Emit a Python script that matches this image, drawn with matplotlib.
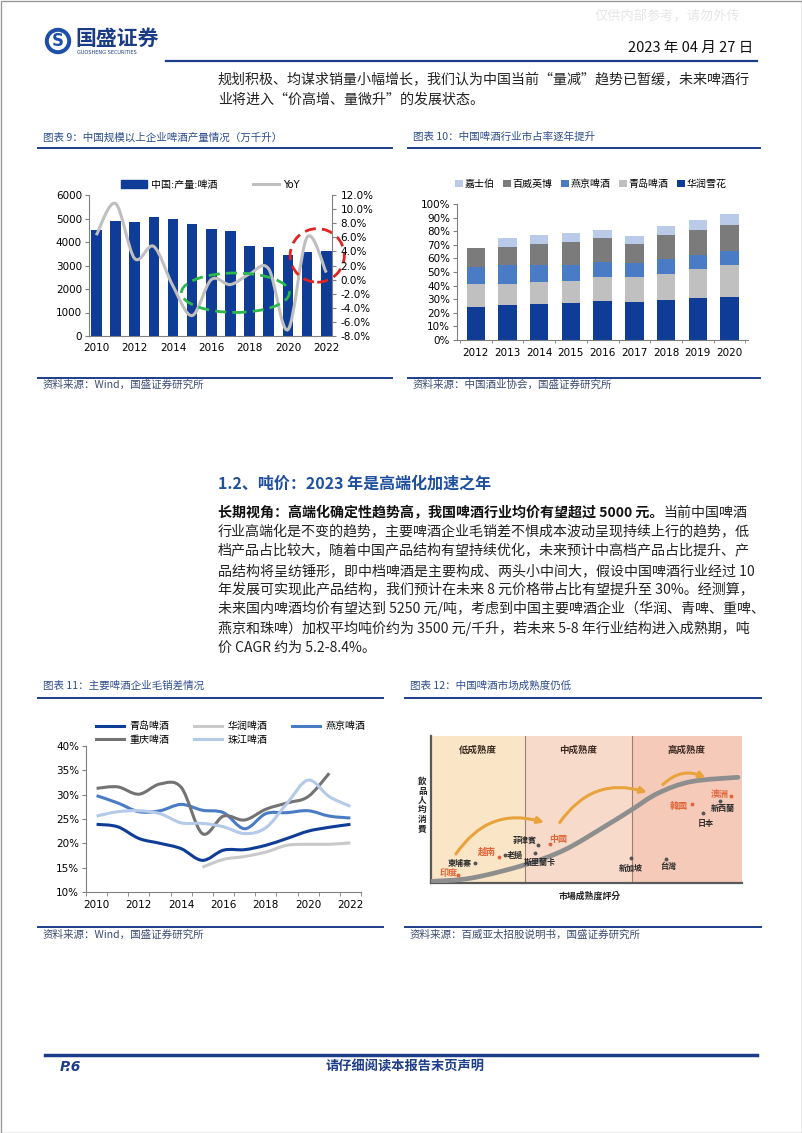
import numpy as np
import matplotlib
matplotlib.use('Agg')
import matplotlib.pyplot as plt
from matplotlib.path import Path
from matplotlib.patches import PathPatch, Ellipse, Rectangle, Circle, FancyArrowPatch
from matplotlib.lines import Line2D

# ---------------- data ----------------
years9 = ['2010', '2011', '2012', '2013', '2014', '2015', '2016',
          '2017', '2018', '2019', '2020', '2021', '2022']
output9 = [4530, 4890, 4830, 5050, 4990, 4760, 4550, 4450, 3850, 3800, 3450, 3580, 3610]
yoy9 = [6.3, 10.8, 3.0, 4.7, -0.9, -5.1, 0.0, -0.7, 0.8, 1.5, -7.1, 6.0, 1.0]

years10 = ['2012', '2013', '2014', '2015', '2016', '2017', '2018', '2019', '2020']
huarun = [24.0, 25.4, 26.7, 27.4, 28.4, 28.1, 29.4, 31.1, 31.9]
qingdao = [17.5, 16.1, 16.3, 16.1, 18.0, 17.9, 19.0, 21.0, 22.9]
yanjing = [12.1, 13.3, 12.0, 11.5, 10.9, 10.3, 10.9, 10.4, 10.6]
budweiser = [13.8, 13.6, 15.9, 17.3, 17.7, 14.1, 18.0, 18.7, 18.8]
carlsberg = [0.0, 6.4, 6.1, 6.5, 6.2, 5.9, 6.4, 7.2, 8.4]

years11 = years9
gm_qingdao = [23.9, 23.4, 21.0, 20.0, 18.9, 16.5, 18.6, 18.7, 19.6, 21.0, 22.5, 23.3, 23.9]
gm_huarun = [np.nan] * 5 + [15.1, 16.7, 17.3, 18.2, 19.6, 19.8, 19.8, 20.1]
gm_yanjing = [29.8, 28.3, 26.5, 26.7, 28.0, 26.8, 26.3, 23.0, 26.1, 26.3, 26.7, 25.6, 25.2]
gm_chongqing = [31.3, 31.6, 30.1, 32.2, 31.5, 22.0, 25.6, 24.8, 27.0, 28.3, 29.6, 34.4, np.nan]
gm_zhujiang = [25.6, 26.5, 26.7, 26.1, 24.2, 24.1, 23.4, 22.0, 23.2, 28.2, 33.0, 29.6, 27.6]

# chart 12 schematic (positions in % of the panel)
zone_names = ['低成熟度', '中成熟度', '高成熟度']
zone_edges = [0, 30.2, 64.5, 100]
zone_colors = ['#FAE6C6', '#F8DACB', '#F6CAB9']
curve_u = [0, 13.1, 30.2, 43.0, 55.9, 64.5, 73.0, 83.7, 98.7]
curve_v = [1.1, 3.4, 12.4, 22.6, 38.5, 49.8, 61.1, 69.0, 71.9]
countries = ['印度', '柬埔寨', '越南', '老撾', '菲律賓', '中國', '斯里蘭卡',
             '新加坡', '台灣', '韓國', '澳洲', '新西蘭', '日本']
country_hl = [1, 0, 1, 0, 0, 1, 0, 0, 0, 1, 1, 0, 0]
label_u = [5.6, 9.3, 17.9, 27.0, 30.0, 40.9, 35.0, 64.2, 76.2, 79.7, 92.8, 93.9, 88.5]
label_v = [6.3, 13.6, 20.8, 18.8, 28.7, 29.9, 14.0, 10.2, 10.9, 52.0, 60.0, 50.9, 40.7]
dot_u = [8.8, 14.1, 21.8, 23.8, 34.5, 38.3, 33.6, 64.2, 75.5, 83.9, 96.6, 92.8, 87.3]
dot_v = [5.2, 13.6, 17.4, 19.2, 26.0, 26.7, 20.4, 17.0, 16.5, 53.8, 59.3, 56.1, 47.5]
arrow_from = [(7.5, 18.1), (40.9, 39.6), (73.9, 65.6)]
arrow_to = [(37.2, 40.7), (70.3, 61.1), (89.1, 70.6)]

# ---------------- style ----------------
CJK = ['Noto Sans CJK SC', 'DejaVu Sans']
TC = ['Noto Sans CJK TC', 'DejaVu Sans']
plt.rcParams['font.family'] = ['DejaVu Sans', 'Noto Sans CJK SC']
plt.rcParams['axes.unicode_minus'] = False

NAVY = '#1D3D8A'
TITLE_C = '#2E4E8E'
SRC_C = '#3C4C72'
BAR_C = '#0E3C96'
AXIS_C = '#808080'
TICK_FS = 7.5

W, H = 802, 1133
fig = plt.figure(figsize=(8.02, 11.33), dpi=100)


def axpos(l, t, r, b):
    return [l / W, 1 - b / H, (r - l) / W, (b - t) / H]


def smooth_path(xs, ys):
    pts = np.array([(x, y) for x, y in zip(xs, ys) if not np.isnan(y)], dtype=float)
    n = len(pts)
    verts, codes = [pts[0]], [Path.MOVETO]
    for i in range(n - 1):
        p0 = pts[i - 1] if i > 0 else pts[i]
        p1, p2 = pts[i], pts[i + 1]
        p3 = pts[i + 2] if i + 2 < n else pts[i + 1]
        verts += [p1 + (p2 - p0) / 6, p2 - (p3 - p1) / 6, p2]
        codes += [Path.CURVE4] * 3
    return Path(verts, codes)


# ---------------- page overlay ----------------
ax0 = fig.add_axes([0, 0, 1, 1])
ax0.set_xlim(0, W)
ax0.set_ylim(H, 0)
ax0.axis('off')

ax0.add_patch(Rectangle((0.5, 0.5), W - 1, H - 1, fill=False, ec='#9a9a9a', lw=1))
ax0.text(740, 17, '仅供内部参考，请勿外传', ha='right', va='center', fontsize=9.5,
         color='#e6e6e6', family=CJK)

# logo
ax0.add_patch(Circle((58, 41), 12.5, color='#1E4FA8'))
ax0.add_patch(Circle((58, 41), 8.5, color='white'))
ax0.text(58, 41.5, 'S', ha='center', va='center', fontsize=12, fontweight='bold', color='#1E4FA8')
ax0.text(75, 38, '国盛证券', ha='left', va='center', fontsize=15, fontweight='bold',
         color='#1A3C86', family=CJK)
ax0.text(77, 53, 'GUOSHENG SECURITIES', ha='left', va='center', fontsize=3.6, color='#1A3C86')
ax0.text(753, 48, '2023 年 04 月 27 日', ha='right', va='center', fontsize=10.5, family=CJK,
         color='#111111')
ax0.plot([166, 757], [61, 61], color=NAVY, lw=1.6)

ax0.text(218, 80, '规划积极、均谋求销量小幅增长，我们认为中国当前“量减”趋势已暂缓，未来啤酒行',
         ha='left', va='center', fontsize=10.1, family=CJK, color='#222222')
ax0.text(218, 100, '业将进入“价高增、量微升”的发展状态。',
         ha='left', va='center', fontsize=10.1, family=CJK, color='#222222')


# chart titles and rules
def chart_frame(x0, x1, ytitle, yline, ysrc_line, ysrc, title, src):
    ax0.text(x0 + 5, ytitle, title, ha='left', va='center', fontsize=7.6, color=TITLE_C,
             family=CJK, style='italic')
    ax0.plot([x0, x1], [yline, yline], color=NAVY, lw=1.4)
    ax0.plot([x0, x1], [ysrc_line, ysrc_line], color=NAVY, lw=1.4)
    ax0.text(x0 + 5, ysrc, src, ha='left', va='center', fontsize=7.6, color=SRC_C,
             family=CJK, style='italic')


chart_frame(38, 392, 137, 148, 378, 385, '图表 9：中国规模以上企业啤酒产量情况（万千升）',
            '资料来源：Wind，国盛证券研究所')
chart_frame(408, 760, 137, 148, 378, 385, '图表 10：中国啤酒行业市占率逐年提升',
            '资料来源：中国酒业协会，国盛证券研究所')
chart_frame(38, 383, 686, 698, 927, 935, '图表 11：主要啤酒企业毛销差情况',
            '资料来源：Wind，国盛证券研究所')
chart_frame(405, 761, 686, 698, 927, 935, '图表 12：中国啤酒市场成熟度仍低',
            '资料来源：百威亚太招股说明书，国盛证券研究所')

# section heading and paragraph
ax0.text(218, 484, '1.2、吨价：2023 年是高端化加速之年', ha='left', va='center', fontsize=11.5,
         fontweight='bold', color='#1F4FA0', family=CJK)
para = [
    '行业高端化是不变的趋势，主要啤酒企业毛销差不惧成本波动呈现持续上行的趋势，低',
    '档产品占比较大，随着中国产品结构有望持续优化，未来预计中高档产品占比提升、产',
    '品结构将呈纺锤形，即中档啤酒是主要构成、两头小中间大，假设中国啤酒行业经过 10',
    '年发展可实现此产品结构，我们预计在未来 8 元价格带占比有望提升至 30%。经测算，',
    '未来国内啤酒均价有望达到 5250 元/吨，考虑到中国主要啤酒企业（华润、青啤、重啤、',
    '燕京和珠啤）加权平均吨价约为 3500 元/千升，若未来 5-8 年行业结构进入成熟期，吨',
    '价 CAGR 约为 5.2-8.4%。',
]
t1 = ax0.text(218, 520, '长期视角：高端化确定性趋势高，我国啤酒行业均价有望超过 5000 元。',
              ha='left', va='bottom', fontsize=10.1, fontweight='bold', family=CJK, color='#111111')
ax0.annotate('当前中国啤酒', xy=(1, 0), xycoords=t1, ha='left', va='bottom',
             fontsize=10.1, family=CJK, color='#222222')
for i, line in enumerate(para):
    ax0.text(218, 520 + 19.3 * (i + 1), line, ha='left', va='bottom', fontsize=10.1,
             family=CJK, color='#222222')

# footer
ax0.plot([45, 757], [1055, 1055], color=NAVY, lw=2.5)
ax0.text(60, 1067, 'P.6', ha='left', va='center', fontsize=10, fontweight='bold',
         style='italic', color=NAVY)
ax0.text(405, 1067, '请仔细阅读本报告末页声明', ha='center', va='center', fontsize=9.5,
         fontweight='bold', color=NAVY, family=CJK)

# ---------------- chart 9 ----------------
x9 = np.arange(len(years9))
ax9 = fig.add_axes(axpos(89, 195, 332, 336))
ax9.set_facecolor('none')
ax9.bar(x9, output9, width=0.55, color=BAR_C, label='中国:产量:啤酒')
ax9.set_xlim(-0.38, 12.3)
ax9.set_ylim(0, 6000)
ax9.set_yticks(range(0, 6001, 1000))
ax9.set_xticks(x9[::2])
ax9.set_xticklabels(years9[::2])
ax9.tick_params(axis='x', length=0, labelsize=TICK_FS, pad=5)
ax9.tick_params(axis='y', length=3, labelsize=TICK_FS, color=AXIS_C, pad=2)
for s in ['top', 'right']:
    ax9.spines[s].set_visible(False)
for s in ['left', 'bottom']:
    ax9.spines[s].set_color(AXIS_C)

ax9b = ax9.twinx()
ax9b.set_ylim(-8, 12)
ax9b.set_yticks(np.arange(-8, 12.1, 2))
ax9b.set_yticklabels(['%.1f%%' % v for v in np.arange(-8, 12.1, 2)])
ax9b.tick_params(axis='y', length=3, labelsize=TICK_FS, color=AXIS_C, pad=3)
for s in ['top', 'left', 'bottom']:
    ax9b.spines[s].set_visible(False)
ax9b.spines['right'].set_color(AXIS_C)
ax9b.add_patch(PathPatch(smooth_path(x9, yoy9), fill=False, ec='#BFBFBF', lw=2.2))
ax9b.add_patch(Ellipse((7.26, -1.86), 5.63, 5.6, fill=False, ec='#2DB84B', lw=2.0,
                       ls=(0, (4, 2.2))))
ax9b.add_patch(Ellipse((11.53, 3.43), 2.83, 7.6, fill=False, ec='#E02424', lw=2.0,
                       ls=(0, (4, 2.2)), clip_on=False))
h9 = [Rectangle((0, 0), 1, 1, color=BAR_C), Line2D([], [], color='#BFBFBF', lw=2.2)]
ax9.legend(h9, ['中国:产量:啤酒', 'YoY'], loc='lower center', bbox_to_anchor=(0.5, 1.01),
           ncol=2, frameon=False, fontsize=7.2, handlelength=2.6, handleheight=0.8,
           columnspacing=3.5, handletextpad=0.4, borderaxespad=0)

# ---------------- chart 10 ----------------
x10 = np.arange(len(years10))
ax10 = fig.add_axes(axpos(457, 204, 748, 340))
ax10.set_facecolor('none')
series10 = [('华润雪花', huarun, '#0E3C96'), ('青岛啤酒', qingdao, '#C0C0C0'),
            ('燕京啤酒', yanjing, '#4A7CC6'), ('百威英博', budweiser, '#7B7B7B'),
            ('嘉士伯', carlsberg, '#B9CBE8')]
bottom = np.zeros(len(years10))
handles10 = []
for name, vals, col in series10:
    v = np.array(vals) / 100
    b = ax10.bar(x10, v, bottom=bottom, width=0.58, color=col, label=name)
    handles10.append(b)
    bottom += v
ax10.set_xlim(-0.59, 8.58)
ax10.set_ylim(0, 1)
ax10.set_yticks(np.arange(0, 1.01, 0.1))
ax10.set_yticklabels(['%d%%' % round(v * 100) for v in np.arange(0, 1.01, 0.1)])
ax10.set_xticks(x10)
ax10.set_xticklabels(years10)
ax10.set_xticks(np.arange(-0.5, 8.6, 1), minor=True)
ax10.tick_params(axis='x', which='major', length=0, labelsize=TICK_FS, pad=6)
ax10.tick_params(axis='x', which='minor', length=2, color=AXIS_C)
ax10.tick_params(axis='y', length=3, labelsize=TICK_FS, color=AXIS_C, pad=2)
for s in ['top', 'right']:
    ax10.spines[s].set_visible(False)
for s in ['left', 'bottom']:
    ax10.spines[s].set_color(AXIS_C)
ax10.legend(handles10[::-1], [s[0] for s in series10][::-1], loc='lower center',
            bbox_to_anchor=(0.46, 1.08), ncol=5, frameon=False, fontsize=7.2,
            handlelength=0.8, handleheight=0.8, columnspacing=0.8, handletextpad=0.2,
            borderaxespad=0)

# ---------------- chart 11 ----------------
x11 = np.arange(len(years11))
ax11 = fig.add_axes(axpos(86, 746, 361, 892))
ax11.set_facecolor('none')
series11 = [('青岛啤酒', gm_qingdao, '#0E3C96'), ('华润啤酒', gm_huarun, '#C9C9C9'),
            ('燕京啤酒', gm_yanjing, '#4A7CC6'), ('重庆啤酒', gm_chongqing, '#737373'),
            ('珠江啤酒', gm_zhujiang, '#B5C9E8')]
handles11 = {}
for name, vals, col in series11:
    ax11.add_patch(PathPatch(smooth_path(x11, vals), fill=False, ec=col, lw=2.2))
    handles11[name] = Line2D([], [], color=col, lw=2.2)
ax11.set_xlim(-0.5, 12.5)
ax11.set_ylim(10, 40)
ax11.set_yticks(range(10, 41, 5))
ax11.set_yticklabels(['%d%%' % v for v in range(10, 41, 5)])
ax11.set_xticks(x11[::2])
ax11.set_xticklabels(years11[::2])
ax11.set_xticks(np.arange(-0.5, 12.6, 1), minor=True)
ax11.tick_params(axis='x', which='major', length=0, labelsize=TICK_FS, pad=6)
ax11.tick_params(axis='x', which='minor', length=3, color=AXIS_C)
ax11.tick_params(axis='y', length=3, labelsize=TICK_FS, color=AXIS_C, pad=2)
for s in ['top', 'right']:
    ax11.spines[s].set_visible(False)
for s in ['left', 'bottom']:
    ax11.spines[s].set_color(AXIS_C)
order11 = ['青岛啤酒', '重庆啤酒', '华润啤酒', '珠江啤酒', '燕京啤酒']
ax11.legend([handles11[k] for k in order11], order11, loc='lower left',
            bbox_to_anchor=(0.02, 0.98), ncol=3, frameon=False, fontsize=7.2,
            handlelength=2.8, columnspacing=2.4, handletextpad=0.6, labelspacing=0.35,
            borderaxespad=0)

# ---------------- chart 12 ----------------
ax12 = fig.add_axes(axpos(431, 736, 742, 883))
ax12.set_xlim(0, 100)
ax12.set_ylim(0, 100)
for i in range(3):
    ax12.add_patch(Rectangle((zone_edges[i], 0), zone_edges[i + 1] - zone_edges[i], 100,
                             color=zone_colors[i], lw=0, zorder=0))
    ax12.text((zone_edges[i] + zone_edges[i + 1]) / 2, 90.5, zone_names[i], ha='center',
              va='center', fontsize=6.8, fontweight='bold', color='#3A2A22', family=TC)
for e in zone_edges[1:3]:
    ax12.axvline(e, color='#9C7F70', lw=0.8)
ax12.add_patch(PathPatch(smooth_path(curve_u, curve_v), fill=False, ec='#8E8E8E', lw=3.4,
                         capstyle='round', zorder=3))
for a, b in zip(arrow_from, arrow_to):
    ax12.add_patch(FancyArrowPatch(a, b, connectionstyle='arc3,rad=-0.38', arrowstyle='-|>',
                                   mutation_scale=9, color='#E8A33C', lw=2.2, zorder=4))
for name, hl, lu, lv, du, dv in zip(countries, country_hl, label_u, label_v, dot_u, dot_v):
    ax12.text(lu, lv, name, ha='center', va='center', fontsize=6.5 if hl else 5.8,
              fontweight='bold', color='#E0663A' if hl else '#2A2A2A', family=TC, zorder=5)
    ax12.plot(du, dv, 'o', ms=1.8, color='#E0663A' if hl else '#555555', zorder=5)
ax12.text(-2.8, 53, '\n'.join('飲品人均消費'), ha='center', va='center', fontsize=6.2,
          fontweight='bold', color='#222222', family=TC, linespacing=1.05, clip_on=False)
ax12.text(51, -9, '市場成熟度評分', ha='center', va='center', fontsize=6.4,
          fontweight='bold', color='#222222', family=TC, clip_on=False)
ax12.set_xticks([])
ax12.set_yticks([])
for s in ['top', 'right']:
    ax12.spines[s].set_visible(False)
for s in ['left', 'bottom']:
    ax12.spines[s].set_color('#5A5A5A')
    ax12.spines[s].set_linewidth(1.6)

fig.savefig('out.png', dpi=100)
